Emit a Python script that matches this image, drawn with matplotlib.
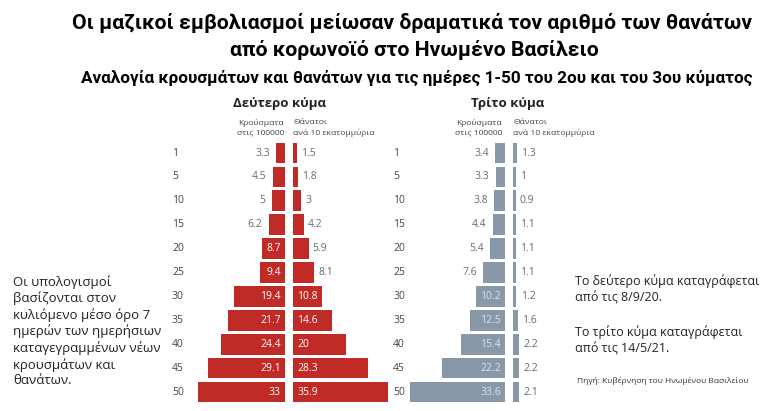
import matplotlib
matplotlib.use('Agg')
import matplotlib.pyplot as plt

plt.rcParams['font.family'] = ['Open Sans', 'DejaVu Sans']

# -- data --
days = ['1', '5', '10', '15', '20', '25', '30', '35', '40', '45', '50']
cases_2nd = [3.3, 4.5, 5, 6.2, 8.7, 9.4, 19.4, 21.7, 24.4, 29.1, 33]
deaths_2nd = [1.5, 1.8, 3, 4.2, 5.9, 8.1, 10.8, 14.6, 20, 28.3, 35.9]
cases_3rd = [3.4, 3.3, 3.8, 4.4, 5.4, 7.6, 10.2, 12.5, 15.4, 22.2, 33.6]
deaths_3rd = [1.3, 1, 0.9, 1.1, 1.1, 1.1, 1.2, 1.6, 2.2, 2.2, 2.1]

RED = '#c12b27'
GREY = '#8898a8'
W, H = 768, 411

fig = plt.figure(figsize=(7.68, 4.11), dpi=100)


def px_axes(x0, y_top, w, h):
    # axes placed by pixel coords (y from top)
    return fig.add_axes([x0 / W, (H - y_top - h) / H, w / W, h / H])


row_h = 23.9
top = 153 - row_h / 2
n = len(days)
span = 40  # units shown per half


def half(x0, scale, vals, color, side, inside_col):
    ax = px_axes(x0, top, span * scale, n * row_h)
    ax.barh(range(n), vals, height=0.87, color=color)
    ax.set_ylim(n - 0.5, -0.5)
    if side == 'left':
        ax.set_xlim(span, 0)
    else:
        ax.set_xlim(0, span)
    ax.axis('off')
    for i, v in enumerate(vals):
        lab = f'{v:g}'
        inside = v >= 8.5
        if inside:
            # labels inside sit next to the centre line
            x = 0
            off = -3 if side == 'left' else 3
        else:
            x = v
            off = -4.5 if side == 'left' else 3
        ha = 'right' if side == 'left' else 'left'
        ax.annotate(lab, (x, i), xytext=(off, 0), textcoords='offset points',
                    ha=ha, va='center', fontsize=7.5,
                    color=inside_col if inside else '#6b6b6b')
    return ax


# second wave
half(285 - span * 2.64, 2.64, cases_2nd, RED, 'left', 'white')
half(293, 2.64, deaths_2nd, RED, 'right', 'white')
# third wave
half(505 - span * 2.83, 2.83, cases_3rd, GREY, 'left', '#dde3e8')
half(513, 2.83, deaths_3rd, GREY, 'right', '#dde3e8')

# row labels
for i, d in enumerate(days):
    y = 1 - (153 + i * row_h) / H
    fig.text(172 / W, y, d, fontsize=7.5, color='#444444', va='center', ha='left')
    fig.text(393 / W, y, d, fontsize=7.5, color='#444444', va='center', ha='left')

# headers
fig.text(280 / W, 1 - 103 / H, 'Δεύτερο κύμα', fontsize=9.5, fontweight='bold',
         ha='center', va='center', color='#222222')
fig.text(508 / W, 1 - 103 / H, 'Τρίτο κύμα', fontsize=9.5, fontweight='bold',
         ha='center', va='center', color='#222222')
for xc, xd in [(284, 293), (502, 513)]:
    fig.text(xc / W, 1 - 128 / H, 'Κρούσματα\nστις 100000', fontsize=6.1,
             ha='right', va='center', color='#444444', linespacing=1.5)
    fig.text(xd / W, 1 - 128 / H, 'Θάνατοι\nανά 10 εκατομμύρια', fontsize=6.1,
             ha='left', va='center', color='#444444', linespacing=1.5)

# titles
fig.text(412 / W, 1 - 23 / H, 'Οι μαζικοί εμβολιασμοί μείωσαν δραματικά τον αριθμό των θανάτων',
         fontsize=15.3, fontweight='bold', ha='center', va='center',
         family=['Roboto', 'DejaVu Sans'])
fig.text(414 / W, 1 - 50 / H, 'από κορωνοϊό στο Ηνωμένο Βασίλειο',
         fontsize=15.3, fontweight='bold', ha='center', va='center',
         family=['Roboto', 'DejaVu Sans'])
fig.text(417 / W, 1 - 78 / H,
         'Αναλογία κρουσμάτων και θανάτων για τις ημέρες 1-50 του 2ου και του 3ου κύματος',
         fontsize=12.3, fontweight='bold', ha='center', va='center',
         family=['Roboto', 'DejaVu Sans'])

# notes
fig.text(13 / W, 1 - 331 / H,
         'Οι υπολογισμοί\nβασίζονται στον\nκυλιόμενο μέσο όρο 7\nημερών των ημερήσιων\n'
         'καταγεγραμμένων νέων\nκρουσμάτων και\nθανάτων.',
         fontsize=9.5, ha='left', va='center', color='#222222', linespacing=1.25)
fig.text(575 / W, 1 - 289 / H, 'Το δεύτερο κύμα καταγράφεται\nαπό τις 8/9/20.',
         fontsize=9, ha='left', va='center', color='#222222', linespacing=1.35)
fig.text(575 / W, 1 - 340 / H, 'Το τρίτο κύμα καταγράφεται\nαπό τις 14/5/21.',
         fontsize=9, ha='left', va='center', color='#222222', linespacing=1.35)
fig.text(577 / W, 1 - 381 / H, 'Πηγή: Κυβέρνηση του Ηνωμένου Βασιλείου',
         fontsize=6, ha='left', va='center', color='#333333')

fig.savefig('out.png', dpi=100)
